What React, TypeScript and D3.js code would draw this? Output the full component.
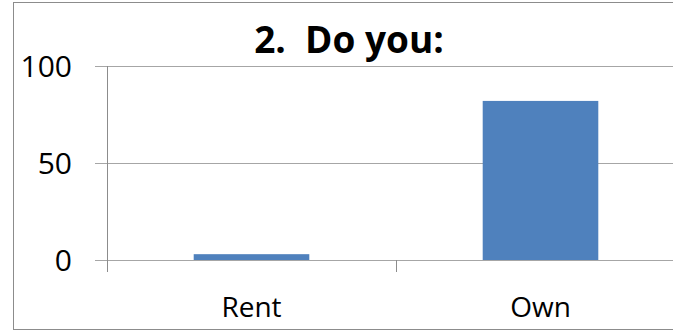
// @ts-nocheck
import { useRef, useEffect } from "react";
import * as d3 from "d3";

const categories = ["Rent", "Own"];
const values = [3, 82];
const yTicks = [0, 50, 100];
const title = "2.  Do you:";

const ColumnChart = ({ width = 673, height = 331 }) => {
  const svgRef = useRef();

  useEffect(() => {
    const svg = d3.select(svgRef.current);
    svg.selectAll("*").remove();

    // plot area runs past the right edge of the picture, like the original crop
    const plot = { left: 107, right: 685, top: 66, bottom: 260 };

    const x = d3
      .scaleBand()
      .domain(categories)
      .range([plot.left, plot.right])
      .paddingInner(0.6)
      .paddingOuter(0.3);

    const y = d3.scaleLinear().domain([0, 100]).range([plot.bottom, plot.top]);

    const step = x.step();

    // outer border
    svg
      .append("rect")
      .attr("x", 13.5)
      .attr("y", 2.5)
      .attr("width", 720)
      .attr("height", 327)
      .attr("fill", "white")
      .attr("stroke", "#8c8c8c")
      .attr("stroke-width", 1);

    // gridlines + tick labels
    const grid = svg.append("g");
    grid
      .selectAll("line")
      .data(yTicks)
      .enter()
      .append("line")
      .attr("x1", plot.left - 12)
      .attr("x2", plot.right)
      .attr("y1", (d) => Math.round(y(d)) + 0.5)
      .attr("y2", (d) => Math.round(y(d)) + 0.5)
      .attr("stroke", "#a6a6a6")
      .attr("stroke-width", 1.2);

    grid
      .selectAll("text")
      .data(yTicks)
      .enter()
      .append("text")
      .attr("x", 72)
      .attr("y", (d) => y(d) + 11)
      .attr("text-anchor", "end")
      .attr("font-family", "Open Sans")
      .attr("font-size", 30)
      .attr("fill", "#000")
      .text((d) => d);

    // y axis line
    svg
      .append("line")
      .attr("x1", plot.left + 0.5)
      .attr("x2", plot.left + 0.5)
      .attr("y1", plot.top)
      .attr("y2", plot.bottom + 12)
      .attr("stroke", "#8c8c8c");

    // category separators
    svg
      .append("g")
      .selectAll("line")
      .data(categories)
      .enter()
      .append("line")
      .attr("x1", (d) => Math.round(x(d) - step * 0.3 + step) + 0.5)
      .attr("x2", (d) => Math.round(x(d) - step * 0.3 + step) + 0.5)
      .attr("y1", plot.bottom)
      .attr("y2", plot.bottom + 12)
      .attr("stroke", "#8c8c8c");

    // bars
    svg
      .append("g")
      .selectAll("rect")
      .data(values)
      .enter()
      .append("rect")
      .attr("x", (d, i) => x(categories[i]))
      .attr("y", (d) => y(d))
      .attr("width", x.bandwidth())
      .attr("height", (d) => plot.bottom - y(d))
      .attr("fill", "#4f81bd");

    // category labels
    svg
      .append("g")
      .selectAll("text")
      .data(categories)
      .enter()
      .append("text")
      .attr("x", (d) => x(d) + x.bandwidth() / 2)
      .attr("y", 317)
      .attr("text-anchor", "middle")
      .attr("font-family", "Open Sans")
      .attr("font-size", 28)
      .attr("fill", "#000")
      .text((d) => d);

    // title
    svg
      .append("text")
      .attr("x", 349)
      .attr("y", 53)
      .attr("text-anchor", "middle")
      .attr("font-family", "Open Sans")
      .attr("font-weight", "bold")
      .attr("font-size", 37)
      .style("white-space", "pre")
      .attr("fill", "#000")
      .text(title);
  }, []);

  return (
    <svg
      ref={svgRef}
      width={width}
      height={height}
      style={{ position: "absolute", left: 0, top: 0 }}
    ></svg>
  );
};

export default function App() {
  return <ColumnChart />;
}
